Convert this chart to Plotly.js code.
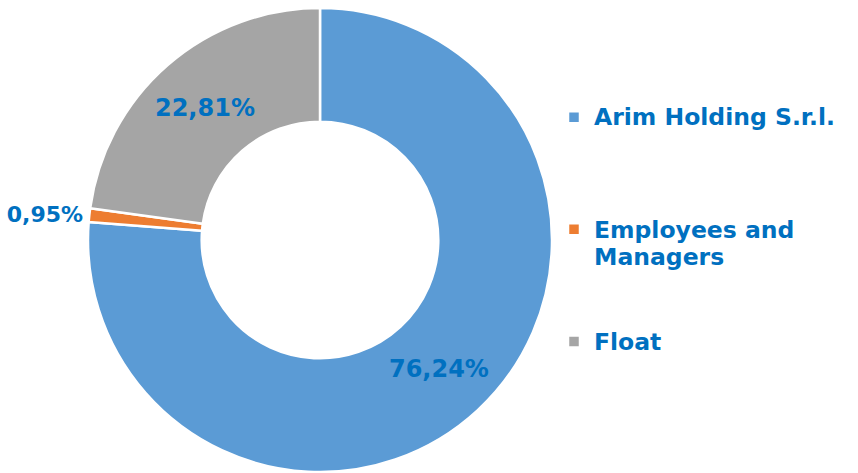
<!DOCTYPE html>
<html>
<head>
<meta charset="utf-8">
<script src="https://cdn.plot.ly/plotly-3.0.1.min.js"></script>
<style>html,body{margin:0;padding:0;background:#fff;}#chart{width:858px;height:473px;}</style>
</head>
<body>
<div id="chart"></div>
<script>
const categories = ["Arim Holding S.r.l.", "Employees and|Managers", "Float"];
const shares = [76.24, 0.95, 22.81];
const sliceColors = ["#5B9BD5", "#ED7D31", "#A5A5A5"];
const legendBlankLines = [3, 2, 0];

const textColor = "#0070C0";
const fontFamily = "DejaVu Sans, Verdana, sans-serif";

function legendLabel(cat, blanks) {
  const lines = cat.split("|").map(s => "<span style='font-size:23.5px'>" + s + "</span>");
  for (let i = 0; i < blanks; i++) lines.push(" ");
  return lines.join("<br>");
}

const trace = {
  type: "pie",
  labels: categories.map((c, i) => legendLabel(c, legendBlankLines[i])),
  values: shares,
  sort: false,
  direction: "clockwise",
  rotation: 0,
  hole: 0.51,
  marker: { colors: sliceColors, line: { color: "#ffffff", width: 2.5 } },
  texttemplate: "%{value:.2f}%",
  textposition: ["inside", "outside", "inside"],
  insidetextorientation: "horizontal",
  textfont: { family: fontFamily, size: 24, color: textColor, weight: "bold" },
  outsidetextfont: { family: fontFamily, size: 22, color: textColor, weight: "bold" },
  domain: { x: [88 / 858, 552 / 858], y: [1 - 472 / 473, 1 - 8 / 473] },
  automargin: false,
  hoverinfo: "none"
};

const layout = {
  width: 858,
  height: 473,
  margin: { l: 0, r: 0, t: 0, b: 0 },
  paper_bgcolor: "#ffffff",
  separators: ",.",
  showlegend: true,
  legend: {
    x: 554 / 858,
    xanchor: "left",
    y: 1 - 97 / 473,
    yanchor: "top",
    valign: "top",
    font: { family: fontFamily, size: 21, color: textColor, weight: "bold" },
    bgcolor: "rgba(0,0,0,0)"
  }
};

Plotly.newPlot("chart", [trace], layout, { displayModeBar: false, staticPlot: true });
</script>
</body>
</html>
